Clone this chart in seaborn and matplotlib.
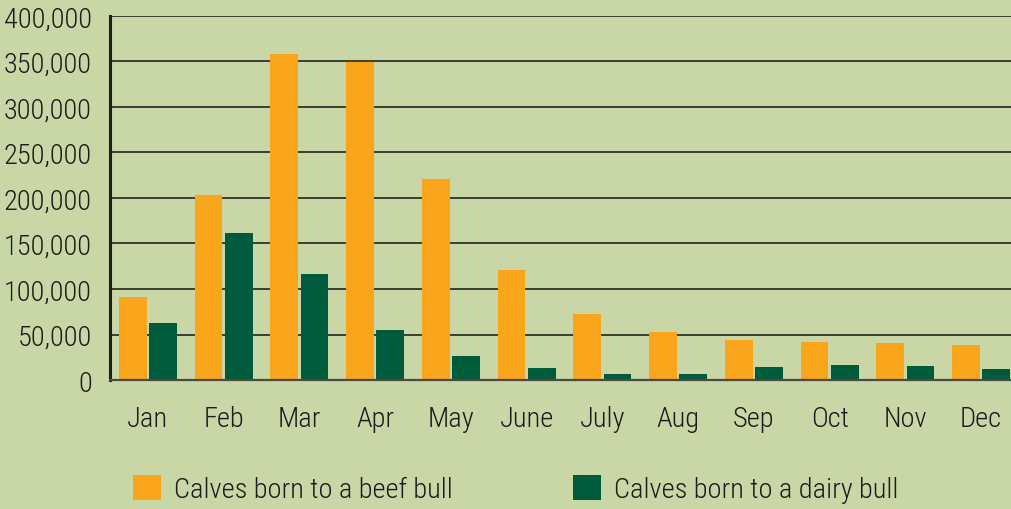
import matplotlib
matplotlib.use("Agg")
import matplotlib.pyplot as plt
import seaborn as sns
import pandas as pd
from matplotlib.ticker import FixedLocator, FuncFormatter

months = ["Jan", "Feb", "Mar", "Apr", "May", "June", "July", "Aug", "Sep", "Oct", "Nov", "Dec"]
beef = [91000, 203000, 358000, 349000, 221000, 121000, 72000, 53000, 44000, 42000, 40500, 38500]
dairy = [63000, 161000, 116000, 55000, 26000, 13000, 7000, 7000, 14000, 16500, 15000, 12000]
series_names = ["Calves born to a beef bull", "Calves born to a dairy bull"]
colors = ["#F9A51B", "#005A3C"]

df = pd.DataFrame({
    "Month": months * 2,
    "Calves": beef + dairy,
    "Type": [series_names[0]] * len(months) + [series_names[1]] * len(months),
})

sns.set_theme(style="white")
plt.rcParams["font.family"] = ["Roboto Condensed", "DejaVu Sans"]
plt.rcParams["font.weight"] = 300
bg = "#C9D7A7"
txt = "#1c1c1c"

fig = plt.figure(figsize=(10.11, 5.10), dpi=100, facecolor=bg)
ax = fig.add_axes([110 / 1011, 129 / 510, 909 / 1011, 364 / 510])
ax.set_facecolor(bg)

sns.barplot(data=df, x="Month", y="Calves", hue="Type", order=months,
            hue_order=series_names, palette=colors, width=0.8, gap=0.08,
            saturation=1, ax=ax, zorder=3, linewidth=0)

ax.set_xlim(-0.5, 11.5)
ax.set_ylim(0, 400000)
ax.set_yticks(range(0, 400001, 50000))
ax.yaxis.set_major_formatter(FuncFormatter(lambda v, p: f"{int(v):,}"))
ax.yaxis.grid(True, color="#33332c", linewidth=1.3, zorder=0)
ax.set_axisbelow(True)
ax.set_xlabel("")
ax.set_ylabel("")

for s in ["top", "right"]:
    ax.spines[s].set_visible(False)
ax.spines["left"].set_color("#1e1e1e")
ax.spines["left"].set_linewidth(2.2)
ax.spines["bottom"].set_color("#4a4a40")
ax.spines["bottom"].set_linewidth(1.6)
ax.spines["bottom"].set_zorder(4)

ax.tick_params(axis="y", length=0, pad=13, labelsize=20.5, labelcolor=txt)
ax.tick_params(axis="x", which="major", length=0, pad=18, labelsize=20.5, labelcolor=txt)
ax.xaxis.set_minor_locator(FixedLocator([i + 0.5 for i in range(11)]))
ax.tick_params(axis="x", which="minor", direction="in", length=7, width=1.6, color="#1e1e1e")

handles, labels = ax.get_legend_handles_labels()
if ax.get_legend() is not None:
    ax.get_legend().remove()
fig.legend(handles, labels, loc="center left", bbox_to_anchor=(133 / 1011, 1 - 490 / 510),
           ncol=2, frameon=False, fontsize=20.5, handlelength=1.0, handleheight=1.0,
           handletextpad=0.45, columnspacing=4.2, borderpad=0, borderaxespad=0,
           labelcolor=txt)

fig.savefig("out.png", dpi=100, facecolor=bg)
